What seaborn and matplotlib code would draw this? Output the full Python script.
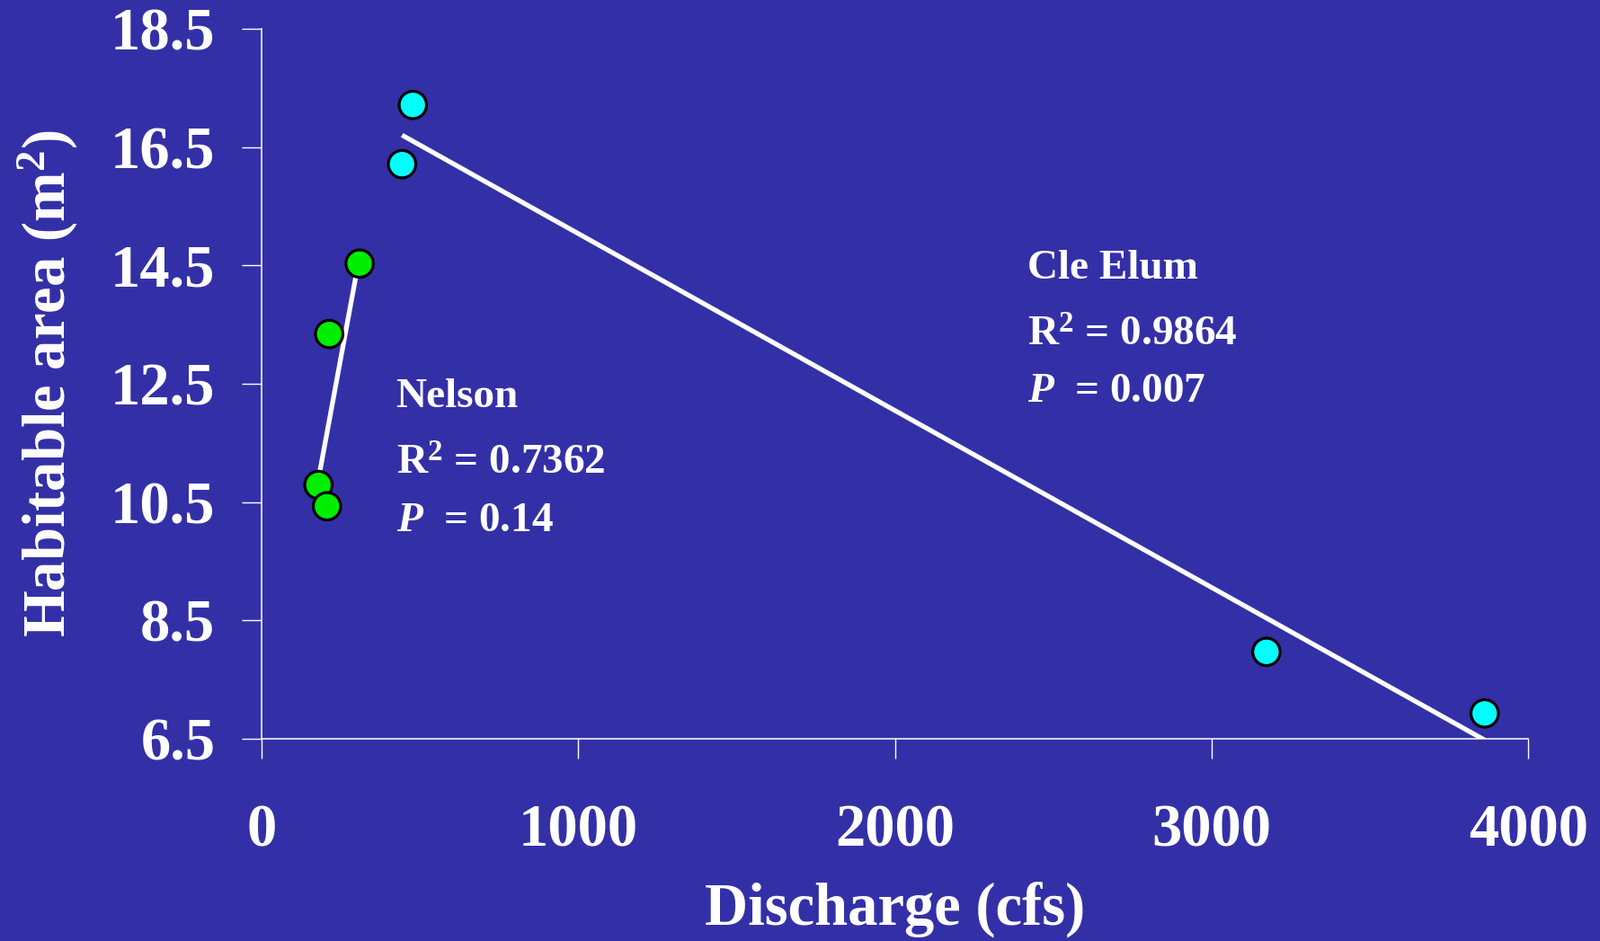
import matplotlib
matplotlib.use("Agg")
import matplotlib.pyplot as plt
import seaborn as sns
import pandas as pd

# ---- data ----
nelson_discharge = [310, 214, 180, 207]
nelson_area = [14.53, 13.34, 10.79, 10.43]
cle_elum_discharge = [478, 444, 3173, 3862]
cle_elum_area = [17.21, 16.21, 7.97, 6.93]
x_ticks = [0, 1000, 2000, 3000, 4000]
y_ticks = [6.5, 8.5, 10.5, 12.5, 14.5, 16.5, 18.5]
nelson_stats = ["Nelson", "R$^{2}$ = 0.7362", "$P$  = 0.14"]
cle_elum_stats = ["Cle Elum", "R$^{2}$ = 0.9864", "$P$  = 0.007"]

df = pd.DataFrame({
    "Discharge": nelson_discharge + cle_elum_discharge,
    "Area": nelson_area + cle_elum_area,
    "Site": ["Nelson"] * len(nelson_discharge) + ["Cle Elum"] * len(cle_elum_discharge),
})

sns.set_theme(style="ticks")
BG = "#3330a7"
plt.rcParams.update({
    "font.family": ["Liberation Serif", "DejaVu Serif"],
    "font.weight": "bold",
    "mathtext.fontset": "custom",
    "mathtext.rm": "Liberation Serif:bold",
    "mathtext.it": "Liberation Serif:italic:bold",
    "mathtext.bf": "Liberation Serif:bold",
    "axes.edgecolor": "white",
    "text.color": "white",
    "xtick.color": "white",
    "ytick.color": "white",
    "axes.labelcolor": "white",
})

fig = plt.figure(figsize=(17.81, 10.47), dpi=100, facecolor=BG)
ax = fig.add_axes([0.1633, 0.2148, 0.7914, 0.7548])
ax.set_facecolor(BG)

for xs, ys in [(nelson_discharge, nelson_area), (cle_elum_discharge, cle_elum_area)]:
    sns.regplot(x=xs, y=ys, ax=ax, scatter=False, ci=None, truncate=True,
                line_kws=dict(color="white", lw=3.8, solid_capstyle="butt", zorder=2))

sns.scatterplot(data=df, x="Discharge", y="Area", hue="Site",
                palette={"Nelson": "#00ee00", "Cle Elum": "#00ffff"},
                s=480, edgecolor="black", linewidth=2.3, legend=False, ax=ax, zorder=3)

ax.set_xlim(x_ticks[0], x_ticks[-1])
ax.set_ylim(y_ticks[0], y_ticks[-1])
ax.set_xticks(x_ticks)
ax.set_yticks(y_ticks)
ax.set_xticklabels([str(v) for v in x_ticks])
ax.set_yticklabels([f"{v:.1f}" for v in y_ticks])
ax.tick_params(axis="both", direction="out", length=16, width=1.0, labelsize=48)
ax.tick_params(axis="x", pad=36)
ax.tick_params(axis="y", pad=21)
for lab in ax.get_xticklabels() + ax.get_yticklabels():
    lab.set_fontweight("bold")

for side in ["top", "right"]:
    ax.spines[side].set_visible(False)
for side in ["left", "bottom"]:
    ax.spines[side].set_color("white")
    ax.spines[side].set_linewidth(1.1)

ax.set_xlabel("Discharge (cfs)", fontsize=48, fontweight="bold")
ax.set_ylabel("Habitable area (m$^{2}$)", fontsize=48, fontweight="bold")
ax.xaxis.set_label_coords(0.5, -0.201)
ax.yaxis.set_label_coords(-0.143, 0.5)

for (x0, ys), lines in [((425, [12.10, 10.97, 10.01]), nelson_stats),
                        ((2418, [14.28, 13.14, 12.20]), cle_elum_stats)]:
    for yy, t in zip(ys, lines):
        ax.text(x0, yy, t, fontsize=34, fontweight="bold", color="white",
                ha="left", va="baseline")

fig.savefig("out.png", dpi=100, facecolor=BG)
